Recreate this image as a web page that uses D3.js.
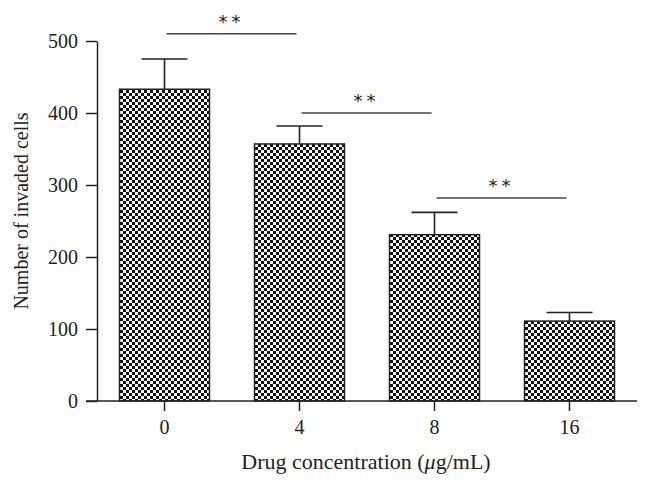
<!DOCTYPE html>
<html><head><meta charset="utf-8">
<script src="https://cdn.jsdelivr.net/npm/d3@7/dist/d3.min.js"></script>
<style>
html,body{margin:0;padding:0;background:#fff;}
svg{display:block;}
text{font-family:"Liberation Serif","DejaVu Serif",serif;fill:#222;}
</style></head>
<body>
<svg id="chart" width="652" height="488"></svg>
<script>
const categories = ["0", "4", "8", "16"];
const values = [433, 357, 231, 111];
const errors = [42, 25, 31, 12];
const yTicks = [0, 100, 200, 300, 400, 500];
const sigPairs = [["0", "4"], ["4", "8"], ["8", "16"]];
const sigHeights = [510, 400, 282];
const sigLabels = ["**", "**", "**"];

const svg = d3.select("#chart");
const x = d3.scaleBand().domain(categories).range([97, 637]).paddingInner(1/3).paddingOuter(1/6);
const y = d3.scaleLinear().domain([0, 500]).range([401, 41]);

// pattern
const defs = svg.append("defs");
const pat = defs.append("pattern").attr("id", "checker").attr("patternUnits", "userSpaceOnUse")
  .attr("width", 6).attr("height", 6);
pat.append("rect").attr("width", 6).attr("height", 6).attr("fill", "#fff");
pat.append("rect").attr("x", 0).attr("y", 0).attr("width", 3).attr("height", 3).attr("fill", "#111");
pat.append("rect").attr("x", 3).attr("y", 3).attr("width", 3).attr("height", 3).attr("fill", "#111");

// error bars
const eg = svg.append("g").attr("stroke", "#222").attr("stroke-width", 1.6);
categories.forEach((c, i) => {
  const cx = x(c) + x.bandwidth() / 2;
  eg.append("line").attr("x1", cx).attr("x2", cx).attr("y1", y(values[i])).attr("y2", y(values[i] + errors[i]));
  eg.append("line").attr("x1", cx - 23).attr("x2", cx + 23).attr("y1", y(values[i] + errors[i])).attr("y2", y(values[i] + errors[i]));
});

// bars
svg.append("g").selectAll("rect").data(categories).join("rect")
  .attr("x", d => x(d))
  .attr("y", (d, i) => y(values[i]))
  .attr("width", x.bandwidth())
  .attr("height", (d, i) => y(0) - y(values[i]))
  .attr("fill", "url(#checker)")
  .attr("stroke", "#222").attr("stroke-width", 1.5);

// y axis
const yAxis = svg.append("g").attr("transform", "translate(97,0)")
  .call(d3.axisLeft(y).tickValues(yTicks).tickSize(11).tickSizeOuter(0).tickPadding(8));
yAxis.selectAll("path,line").attr("stroke", "#222").attr("stroke-width", 1.5);
yAxis.selectAll("text").attr("font-size", 20).style("font-family", '"Liberation Serif",serif').attr("fill", "#222");

// x axis
const xAxis = svg.append("g").attr("transform", "translate(0,401)")
  .call(d3.axisBottom(x).tickSize(10).tickSizeOuter(0).tickPadding(9));
xAxis.select(".domain").remove();
xAxis.selectAll("line").attr("stroke", "#222").attr("stroke-width", 1.5);
xAxis.selectAll("text").attr("font-size", 20).style("font-family", '"Liberation Serif",serif').attr("fill", "#222");
svg.append("line").attr("x1", 86).attr("x2", 637).attr("y1", 401).attr("y2", 401)
  .attr("stroke", "#222").attr("stroke-width", 1.5);

// significance lines
sigPairs.forEach((p, i) => {
  const x1 = x(p[0]) + x.bandwidth() / 2 + 2;
  const x2 = x(p[1]) + x.bandwidth() / 2 - 3;
  const yy = y(sigHeights[i]);
  svg.append("line").attr("x1", x1).attr("x2", x2).attr("y1", yy).attr("y2", yy)
    .attr("stroke", "#444").attr("stroke-width", 1.5);
  svg.append("text").attr("x", (x1 + x2) / 2).attr("y", yy - 6)
    .attr("text-anchor", "middle").attr("font-size", 18).attr("fill", "#444")
    .style("font-family", '"DejaVu Sans",sans-serif').style("letter-spacing", "4px")
    .text(sigLabels[i]);
});

// axis titles
const xt = svg.append("text").attr("x", 366).attr("y", 469).attr("text-anchor", "middle").attr("font-size", 22);
xt.append("tspan").text("Drug concentration (");
xt.append("tspan").attr("font-style", "italic").text("μ");
xt.append("tspan").text("g/mL)");

svg.append("text").attr("transform", "translate(28,211) rotate(-90)").attr("text-anchor", "middle")
  .attr("font-size", 20).text("Number of invaded cells");
</script>
</body></html>
